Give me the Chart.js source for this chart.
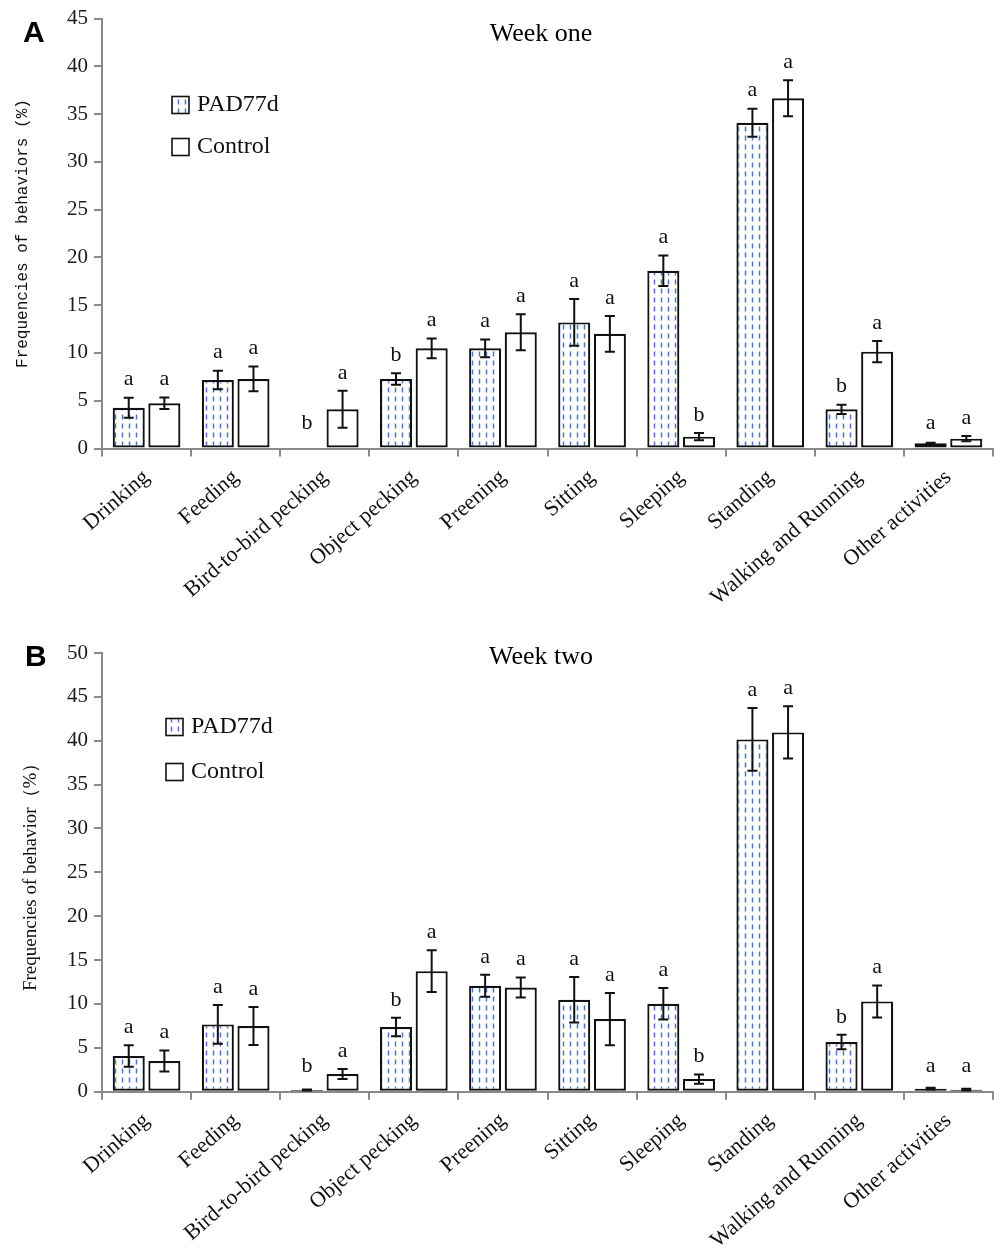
<!DOCTYPE html>
<html>
<head>
<meta charset="utf-8">
<script src="https://cdn.jsdelivr.net/npm/chart.js@4"></script>
<style>
  body { margin: 0; background: #fff; }
  canvas { display: block; }
</style>
</head>
<body>
<canvas id="weekOneChart" width="994" height="627"></canvas>
<canvas id="weekTwoChart" width="994" height="627"></canvas>
<script>
const categories = ["Drinking", "Feeding", "Bird-to-bird pecking", "Object pecking", "Preening",
  "Sitting", "Sleeping", "Standing", "Walking and Running", "Other activities"];

// week one
const weekOnePad = [4.27, 7.17, 0, 7.28, 10.49, 13.2, 18.6, 34.1, 4.1, 0.54];
const weekOnePadErr = [1.05, 0.98, 0, 0.6, 0.93, 2.45, 1.6, 1.47, 0.49, 0.05];
const weekOneCtrl = [4.73, 7.28, 4.1, 10.49, 12.17, 12.0, 1.24, 36.67, 10.14, 1.03];
const weekOneCtrlErr = [0.6, 1.3, 1.94, 1.03, 1.88, 1.87, 0.38, 1.88, 1.12, 0.28];
const weekOnePadLetters = ["a", "a", "b", "b", "a", "a", "a", "a", "b", "a"];
const weekOneCtrlLetters = ["a", "a", "a", "a", "a", "a", "b", "a", "a", "a"];

// week two
const weekTwoPad = [4.06, 7.67, 0.19, 7.37, 12.07, 10.48, 10.02, 40.15, 5.66, 0.35];
const weekTwoPadErr = [1.23, 2.2, 0.05, 1.06, 1.25, 2.58, 1.8, 3.57, 0.83, 0.1];
const weekTwoCtrl = [3.49, 7.48, 2.01, 13.74, 11.88, 8.28, 1.44, 40.95, 10.29, 0.23];
const weekTwoCtrlErr = [1.2, 2.16, 0.57, 2.37, 1.14, 2.98, 0.53, 2.98, 1.82, 0.1];
const weekTwoPadLetters = ["a", "a", "b", "b", "a", "a", "a", "a", "b", "a"];
const weekTwoCtrlLetters = ["a", "a", "a", "a", "a", "a", "b", "a", "a", "a"];

const SERIF = "'Liberation Serif', 'Times New Roman', serif";

function dashPattern() {
  const c = document.createElement("canvas");
  c.width = 7; c.height = 9;
  const g = c.getContext("2d");
  g.fillStyle = "#fff";
  g.fillRect(0, 0, 7, 9);
  g.strokeStyle = "#4f74c9";
  g.lineWidth = 1.5;
  g.beginPath();
  g.moveTo(3.5, 0.5);
  g.lineTo(3.5, 5.5);
  g.stroke();
  return g.createPattern(c, "repeat");
}

const annotatePlugin = {
  id: "annotate",
  afterDatasetsDraw(chart) {
    const ctx = chart.ctx;
    const ys = chart.scales.y;
    const axisY = ys.getPixelForValue(0);
    ctx.save();
    chart.data.datasets.forEach((ds, i) => {
      const meta = chart.getDatasetMeta(i);
      meta.data.forEach((bar, j) => {
        const v = ds.data[j], e = ds.errors[j];
        const top = ys.getPixelForValue(v + e);
        const bot = ys.getPixelForValue(v - e);
        if (e > 0) {
          ctx.strokeStyle = "#111";
          ctx.lineWidth = 2;
          ctx.beginPath();
          ctx.moveTo(bar.x, top); ctx.lineTo(bar.x, bot);
          ctx.moveTo(bar.x - 5, top); ctx.lineTo(bar.x + 5, top);
          ctx.moveTo(bar.x - 5, bot); ctx.lineTo(bar.x + 5, bot);
          ctx.stroke();
        }
        const ly = Math.min(top - 18, axisY - 25);
        ctx.fillStyle = "#111";
        ctx.font = "22px " + SERIF;
        ctx.textAlign = "center";
        ctx.textBaseline = "middle";
        ctx.fillText(ds.letters[j], bar.x, ly);
      });
    });
    ctx.restore();
  },
  afterDraw(chart, args, opts) {
    const ctx = chart.ctx;
    ctx.save();
    // panel letter
    ctx.fillStyle = "#000";
    ctx.font = "bold 30px 'Liberation Sans', Arial, sans-serif";
    ctx.textAlign = "left";
    ctx.textBaseline = "middle";
    ctx.fillText(opts.panel, opts.panelX, opts.panelY);
    // title
    ctx.font = "26px " + SERIF;
    ctx.textAlign = "center";
    ctx.fillText(opts.title, 541, opts.titleY);
    // legend
    ctx.font = "24px " + SERIF;
    ctx.textAlign = "left";
    chart.data.datasets.forEach((ds, i) => {
      const y = opts.legendY[i];
      ctx.fillStyle = ds.backgroundColor;
      ctx.fillRect(opts.legendX, y - 8.5, 17, 17);
      ctx.strokeStyle = "#111";
      ctx.lineWidth = 1.6;
      ctx.strokeRect(opts.legendX, y - 8.5, 17, 17);
      ctx.fillStyle = "#111";
      ctx.fillText(ds.label, opts.legendX + 25, y);
    });
    ctx.restore();
  }
};

function renderWeek(canvasId, pad, padErr, padLetters, ctrl, ctrlErr, ctrlLetters, cfg) {
  const canvas = document.getElementById(canvasId);
  if (!canvas) return;
  const ctx = canvas.getContext("2d");
  const pattern = dashPattern();

  new Chart(ctx, {
    type: "bar",
    data: {
      labels: categories,
      datasets: [
        {
          label: "PAD77d",
          data: pad,
          errors: padErr,
          letters: padLetters,
          backgroundColor: pattern,
          borderColor: "#111",
          borderWidth: 2.2,
          borderSkipped: false,
        },
        {
          label: "Control",
          data: ctrl,
          errors: ctrlErr,
          letters: ctrlLetters,
          backgroundColor: "#fff",
          borderColor: "#111",
          borderWidth: 2.2,
          borderSkipped: false,
        },
      ],
    },
    options: {
      responsive: false,
      animation: false,
      layout: { padding: { top: cfg.top, right: 1, left: 0, bottom: 0 } },
      plugins: {
        legend: { display: false },
        tooltip: { enabled: false },
        annotate: cfg.annot,
      },
      scales: {
        x: {
          categoryPercentage: 0.584,
          barPercentage: 1.0,
          border: { display: true, color: "#8a8a8a", width: 2 },
          grid: { drawOnChartArea: false, drawTicks: true, tickLength: 8, color: "#8a8a8a", lineWidth: 2, offset: true },
          ticks: {
            color: "#111",
            font: { family: SERIF, size: 22 },
            minRotation: 41,
            maxRotation: 41,
            autoSkip: false,
            padding: 8,
          },
          afterFit(scale) { scale.height = cfg.xHeight; },
        },
        y: {
          min: 0,
          max: cfg.max,
          border: { display: true, color: "#8a8a8a", width: 2 },
          grid: { drawOnChartArea: false, drawTicks: true, tickLength: 8, color: "#8a8a8a", lineWidth: 2 },
          ticks: {
            stepSize: 5,
            color: "#1a1a1a",
            font: { family: SERIF, size: 21 },
            padding: 6,
          },
          title: {
            display: true,
            text: cfg.yTitle,
            color: "#111",
            font: cfg.yFont,
            padding: cfg.yPad,
          },
          afterFit(scale) { scale.width = 102; },
        },
      },
    },
    plugins: [annotatePlugin],
  });
}

function initCharts() {
  renderWeek("weekOneChart", weekOnePad, weekOnePadErr, weekOnePadLetters,
    weekOneCtrl, weekOneCtrlErr, weekOneCtrlLetters, {
      top: 18, xHeight: 178.5, max: 45,
      yTitle: "Frequencies of behaviors (%)",
      yFont: { family: "'Liberation Mono', 'DejaVu Sans Mono', monospace", size: 16 },
      yPad: { top: 13, bottom: 0 },
      annot: { panel: "A", panelX: 23, panelY: 34, title: "Week one", titleY: 34,
        legendX: 172, legendY: [105, 147] },
    });
  renderWeek("weekTwoChart", weekTwoPad, weekTwoPadErr, weekTwoPadLetters,
    weekTwoCtrl, weekTwoCtrlErr, weekTwoCtrlLetters, {
      top: 26, xHeight: 162.3, max: 50,
      yTitle: "Frequencies of behavior（%）",
      yFont: { family: SERIF, size: 19 },
      yPad: { top: 20, bottom: 0 },
      annot: { panel: "B", panelX: 25, panelY: 31, title: "Week two", titleY: 30,
        legendX: 166, legendY: [100, 145] },
    });
}

window.addEventListener("load", initCharts);
</script>
</body>
</html>
